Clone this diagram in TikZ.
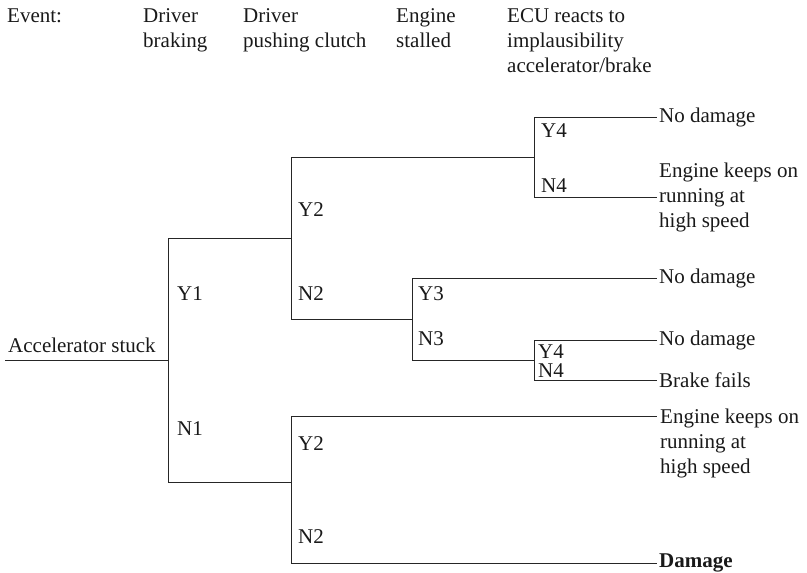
\documentclass[tikz,border=0pt]{standalone}
\usepackage{fontspec}
\setmainfont{Liberation Serif}
\begin{document}
\begin{tikzpicture}[x=1pt,y=-1pt,
  every node/.style={font=\fontsize{21}{25}\selectfont, inner sep=0pt, text=black!90},
  branch/.style={line width=1pt, draw=black!85},
  lbl/.style={anchor=base west},
  head/.style={anchor=base west, align=left},
  outcome/.style={anchor=west, align=left, xshift=2pt}]
\useasboundingbox (0,0) rectangle (807,573);

% header (base anchor = baseline of the last line)
\node[head] (hEvent) at (7,22) {Event:};
\node[head] (hBrake) at (143,47) {Driver\\braking};
\node[head] (hClutch) at (243,47) {Driver\\pushing clutch};
\node[head] (hStall) at (396,47) {Engine\\stalled};
\node[head] (hECU) at (507,72) {ECU reacts to\\implausibility\\accelerator/brake};

% junction coordinates
\coordinate (start) at (5,360);
\coordinate (r) at (168,360);
\coordinate (r1t) at (168,238);
\coordinate (r1b) at (168,482);
% Y1 subtree
\coordinate (a) at (291,238);
\coordinate (at) at (291,157);
\coordinate (ab) at (291,319);
\coordinate (b) at (534,157);
\coordinate (bt) at (534,117);
\coordinate (bb) at (534,197);
\coordinate (c) at (412,319);
\coordinate (ct) at (412,278);
\coordinate (cb) at (412,360);
\coordinate (d) at (534,360);
\coordinate (dt) at (534,340);
\coordinate (db) at (534,380);
% N1 subtree
\coordinate (e) at (291,482);
\coordinate (et) at (291,416);
\coordinate (eb) at (291,563);
% outcome ends
\coordinate (o1) at (657,117);
\coordinate (o2) at (657,197);
\coordinate (o3) at (657,278);
\coordinate (o4) at (657,340);
\coordinate (o5) at (657,380);
\coordinate (o6) at (657,416);
\coordinate (o7) at (657,563);

% root
\node[lbl] (root) at (8,352) {Accelerator stuck};
\draw[branch] (start) -- (r);
\draw[branch] (r1t) -- (r1b);
\draw[branch] (r1t) -- (a);
\draw[branch] (r1b) -- (e);

% Y1 subtree
\draw[branch] (at) -- (ab);
\draw[branch] (at) -- (b);
\draw[branch] (ab) -- (c);
\draw[branch] (bt) -- (bb);
\draw[branch] (bt) -- (o1);
\draw[branch] (bb) -- (o2);
\draw[branch] (ct) -- (cb);
\draw[branch] (ct) -- (o3);
\draw[branch] (cb) -- (d);
\draw[branch] (dt) -- (db);
\draw[branch] (dt) -- (o4);
\draw[branch] (db) -- (o5);

% N1 subtree
\draw[branch] (et) -- (eb);
\draw[branch] (et) -- (o6);
\draw[branch] (eb) -- (o7);

% branch labels
\node[lbl] (Y1) at (177,300) {Y1};
\node[lbl] (N1) at (177,435) {N1};
\node[lbl] (Y2a) at (298,216) {Y2};
\node[lbl] (N2a) at (298,300) {N2};
\node[lbl] (Y4a) at (541,137) {Y4};
\node[lbl] (N4a) at (541,192) {N4};
\node[lbl] (Y3) at (418,300) {Y3};
\node[lbl] (N3) at (418,345) {N3};
\node[lbl] (Y4b) at (538,358) {Y4};
\node[lbl] (N4b) at (538,377) {N4};
\node[lbl] (Y2b) at (298,450) {Y2};
\node[lbl] (N2b) at (298,543) {N2};

% outcomes
\node[outcome] (t1) at (o1) {No damage};
\node[outcome] (t2) at (o2) {Engine keeps on\\running at\\high speed};
\node[outcome] (t3) at (o3) {No damage};
\node[outcome] (t4) at (o4) {No damage};
\node[outcome] (t5) at (o5) {Brake fails};
\node[head, xshift=3pt, yshift=-57pt] (t6) at (o6) {Engine keeps on\\running at\\high speed};
\node[outcome] (t7) at (o7) {\bfseries Damage};
\end{tikzpicture}
\end{document}
